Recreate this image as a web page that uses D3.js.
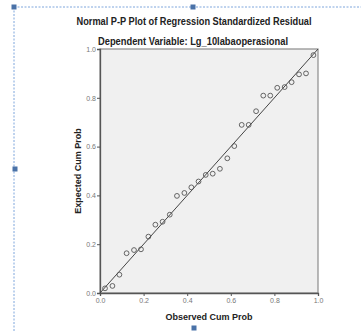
<!DOCTYPE html>
<html>
<head>
<meta charset="utf-8">
<script src="https://cdn.jsdelivr.net/npm/d3@7"></script>
<style>
  body { margin: 0; background: #fff; }
  svg { display: block; font-family: "Liberation Sans", Arial, sans-serif; }
</style>
</head>
<body>
<svg width="361" height="331"></svg>
<script>
// observed / expected cumulative probabilities
var observed = [0.023, 0.057, 0.089, 0.122, 0.156, 0.188, 0.222, 0.254, 0.287, 0.320,
  0.353, 0.387, 0.419, 0.452, 0.485, 0.517, 0.550, 0.584, 0.616, 0.650,
  0.682, 0.716, 0.749, 0.781, 0.813, 0.847, 0.879, 0.913, 0.945, 0.979];
var expected = [0.019, 0.029, 0.075, 0.163, 0.176, 0.179, 0.231, 0.280, 0.292, 0.321,
  0.398, 0.410, 0.433, 0.457, 0.484, 0.489, 0.509, 0.552, 0.602, 0.689,
  0.689, 0.745, 0.809, 0.809, 0.841, 0.844, 0.864, 0.896, 0.900, 0.975];
var tickValues = [0, 0.2, 0.4, 0.6, 0.8, 1.0];

var svg = d3.select('svg');

// selection frame (editor chrome)
var frame = svg.append('g');
frame.append('line')
  .attr('x1', 14).attr('y1', 7).attr('x2', 361).attr('y2', 7)
  .attr('stroke', '#7fa6dc').attr('stroke-dasharray', '2,1.5');
frame.append('line')
  .attr('x1', 14).attr('y1', 7).attr('x2', 14).attr('y2', 331)
  .attr('stroke', '#7fa6dc').attr('stroke-dasharray', '2,1.5');
[[14, 7], [193, 7], [15, 169], [194, 328]].forEach(function(p) {
  frame.append('rect')
    .attr('x', p[0] - 2.5).attr('y', p[1] - 2.5)
    .attr('width', 5).attr('height', 5)
    .attr('fill', '#4a72a8');
});

var pLeft = 100, pTop = 49, pRight = 318, pBottom = 293;
var x = d3.scaleLinear().domain([0, 1]).range([pLeft, pRight]);
var y = d3.scaleLinear().domain([0, 1]).range([pBottom, pTop]);

svg.append('rect')
  .attr('x', pLeft).attr('y', pTop)
  .attr('width', pRight - pLeft).attr('height', pBottom - pTop)
  .attr('fill', '#f0f0f0')
  .attr('stroke', '#8c8c8c').attr('stroke-width', 1.2);

var xAxis = svg.append('g')
  .attr('transform', 'translate(0,' + pBottom + ')')
  .call(d3.axisBottom(x).tickValues(tickValues).tickFormat(d3.format('.1f')).tickSize(3).tickPadding(2));
var yAxis = svg.append('g')
  .attr('transform', 'translate(' + pLeft + ',0)')
  .call(d3.axisLeft(y).tickValues(tickValues).tickFormat(d3.format('.1f')).tickSize(3).tickPadding(1));
[xAxis, yAxis].forEach(function(a) {
  a.select('.domain').attr('stroke', '#555').attr('stroke-width', 1.3);
  a.selectAll('.tick line').attr('stroke', '#555');
  a.selectAll('.tick text')
    .attr('fill', '#777')
    .style('font-size', '7px')
    .style('font-family', '"Liberation Sans", Arial, sans-serif');
});

// reference diagonal
svg.append('line')
  .attr('x1', x(0)).attr('y1', y(0))
  .attr('x2', x(1)).attr('y2', y(1))
  .attr('stroke', '#444').attr('stroke-width', 1);

svg.selectAll('.pt')
  .data(observed)
  .enter()
  .append('circle')
  .attr('class', 'pt')
  .attr('cx', function(d) { return x(d); })
  .attr('cy', function(d, i) { return y(expected[i]); })
  .attr('r', 2.4)
  .attr('fill', 'none')
  .attr('stroke', '#555')
  .attr('stroke-width', 0.9);

svg.append('text')
  .attr('x', 194).attr('y', 25)
  .attr('text-anchor', 'middle')
  .attr('font-weight', 'bold').attr('font-size', 10)
  .attr('textLength', 235).attr('lengthAdjust', 'spacingAndGlyphs')
  .attr('fill', '#222')
  .text('Normal P-P Plot of Regression Standardized Residual');
svg.append('text')
  .attr('x', 193).attr('y', 45)
  .attr('text-anchor', 'middle')
  .attr('font-weight', 'bold').attr('font-size', 10)
  .attr('textLength', 190).attr('lengthAdjust', 'spacingAndGlyphs')
  .attr('fill', '#222')
  .text('Dependent Variable: Lg_10labaoperasional');

svg.append('text')
  .attr('x', (pLeft + pRight) / 2).attr('y', 320)
  .attr('text-anchor', 'middle')
  .attr('font-weight', 'bold').attr('font-size', 9)
  .attr('fill', '#222')
  .text('Observed Cum Prob');
svg.append('text')
  .attr('transform', 'translate(81,' + ((pTop + pBottom) / 2) + ') rotate(-90)')
  .attr('text-anchor', 'middle')
  .attr('font-weight', 'bold').attr('font-size', 9)
  .attr('fill', '#222')
  .text('Expected Cum Prob');
</script>
</body>
</html>
